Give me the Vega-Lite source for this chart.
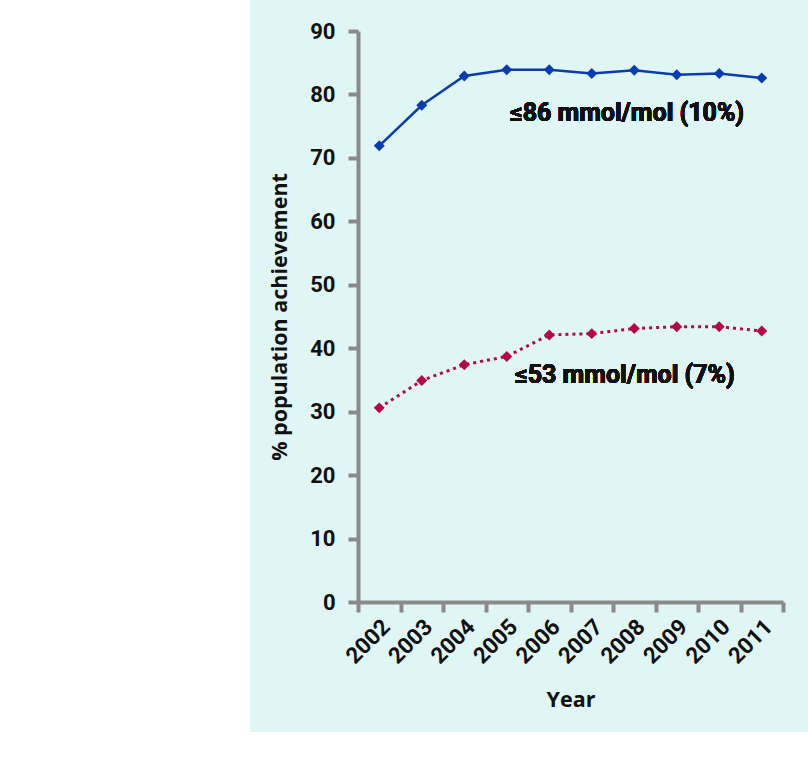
{
  "$schema": "https://vega.github.io/schema/vega-lite/v6.json",
  "autosize": "none",
  "width": 558,
  "height": 732,
  "padding": {"left": 250, "top": 0, "right": 0, "bottom": 37},
  "background": "white",
  "view": {"fill": "#e0f6f4", "stroke": null},
  "config": {
    "font": "Roboto",
    "axis": {
      "domainColor": "#8a8a8a",
      "domainWidth": 4,
      "tickColor": "#8a8a8a",
      "tickWidth": 4,
      "tickSize": 10,
      "grid": false,
      "labelFont": "Roboto",
      "labelFontWeight": "bold",
      "labelFontSize": 22,
      "labelColor": "#111111",
      "labelOverlap": false,
      "titleFont": "Open Sans",
      "titleFontWeight": "bold",
      "titleFontSize": 21.5,
      "titleColor": "#111111"
    }
  },
  "datasets": {
    "hba1c": [
      {"year": 2002, "series": "86", "value": 71.9},
      {"year": 2003, "series": "86", "value": 78.3},
      {"year": 2004, "series": "86", "value": 82.9},
      {"year": 2005, "series": "86", "value": 83.9},
      {"year": 2006, "series": "86", "value": 83.9},
      {"year": 2007, "series": "86", "value": 83.3},
      {"year": 2008, "series": "86", "value": 83.8},
      {"year": 2009, "series": "86", "value": 83.1},
      {"year": 2010, "series": "86", "value": 83.3},
      {"year": 2011, "series": "86", "value": 82.6},
      {"year": 2002, "series": "53", "value": 30.6},
      {"year": 2003, "series": "53", "value": 34.9},
      {"year": 2004, "series": "53", "value": 37.4},
      {"year": 2005, "series": "53", "value": 38.7},
      {"year": 2006, "series": "53", "value": 42.1},
      {"year": 2007, "series": "53", "value": 42.3},
      {"year": 2008, "series": "53", "value": 43.1},
      {"year": 2009, "series": "53", "value": 43.4},
      {"year": 2010, "series": "53", "value": 43.4},
      {"year": 2011, "series": "53", "value": 42.7}
    ]
  },
  "data": {"name": "hba1c"},
  "encoding": {
    "x": {
      "field": "year",
      "type": "quantitative",
      "scale": {"domain": [2001.5, 2011.5], "range": [108, 533], "nice": false, "zero": false},
      "axis": {
        "title": "Year",
        "offset": -130,
        "values": [2001.5, 2002.5, 2003.5, 2004.5, 2005.5, 2006.5, 2007.5, 2008.5, 2009.5, 2010.5, 2011.5],
        "labelExpr": "datum.value > 2011 ? '' : format(datum.value + 0.5, 'd')",
        "labelAngle": -45,
        "labelAlign": "right",
        "labelBaseline": "middle",
        "labelFontSize": 22.5,
        "labelOffset": 28,
        "labelPadding": 11,
        "titlePadding": 22
      }
    },
    "y": {
      "field": "value",
      "type": "quantitative",
      "scale": {"domain": [0, 90], "range": [602, 31], "nice": false},
      "axis": {
        "title": "% population achievement",
        "offset": -108,
        "values": [0, 10, 20, 30, 40, 50, 60, 70, 80, 90],
        "labelPadding": 13,
        "titlePadding": 18
      }
    }
  },
  "layer": [
    {
      "transform": [{"filter": "datum.series === '86'"}],
      "mark": {"type": "line", "color": "#0a3cb0", "strokeWidth": 2.5}
    },
    {
      "transform": [{"filter": "datum.series === '53'"}],
      "mark": {"type": "line", "color": "#b5084c", "strokeWidth": 3, "strokeDash": [3, 4]}
    },
    {
      "transform": [{"filter": "datum.series === '86'"}],
      "mark": {"type": "point", "shape": "diamond", "filled": true, "size": 120, "color": "#0a3cb0", "opacity": 1}
    },
    {
      "transform": [{"filter": "datum.series === '53'"}],
      "mark": {"type": "point", "shape": "diamond", "filled": true, "size": 120, "color": "#b5084c", "opacity": 1}
    },
    {
      "mark": {"type": "text", "font": "Roboto", "fontWeight": "bold", "fontSize": 25, "color": "#111111", "align": "center", "baseline": "middle"},
      "encoding": {
        "x": {"datum": 2007.83, "type": "quantitative"},
        "y": {"datum": 77.1, "type": "quantitative"},
        "text": {"value": "≤86 mmol/mol (10%)"}
      }
    },
    {
      "mark": {"type": "text", "font": "Roboto", "fontWeight": "bold", "fontSize": 25, "color": "#111111", "align": "center", "baseline": "middle"},
      "encoding": {
        "x": {"datum": 2007.78, "type": "quantitative"},
        "y": {"datum": 35.8, "type": "quantitative"},
        "text": {"value": "≤53 mmol/mol (7%)"}
      }
    }
  ]
}
